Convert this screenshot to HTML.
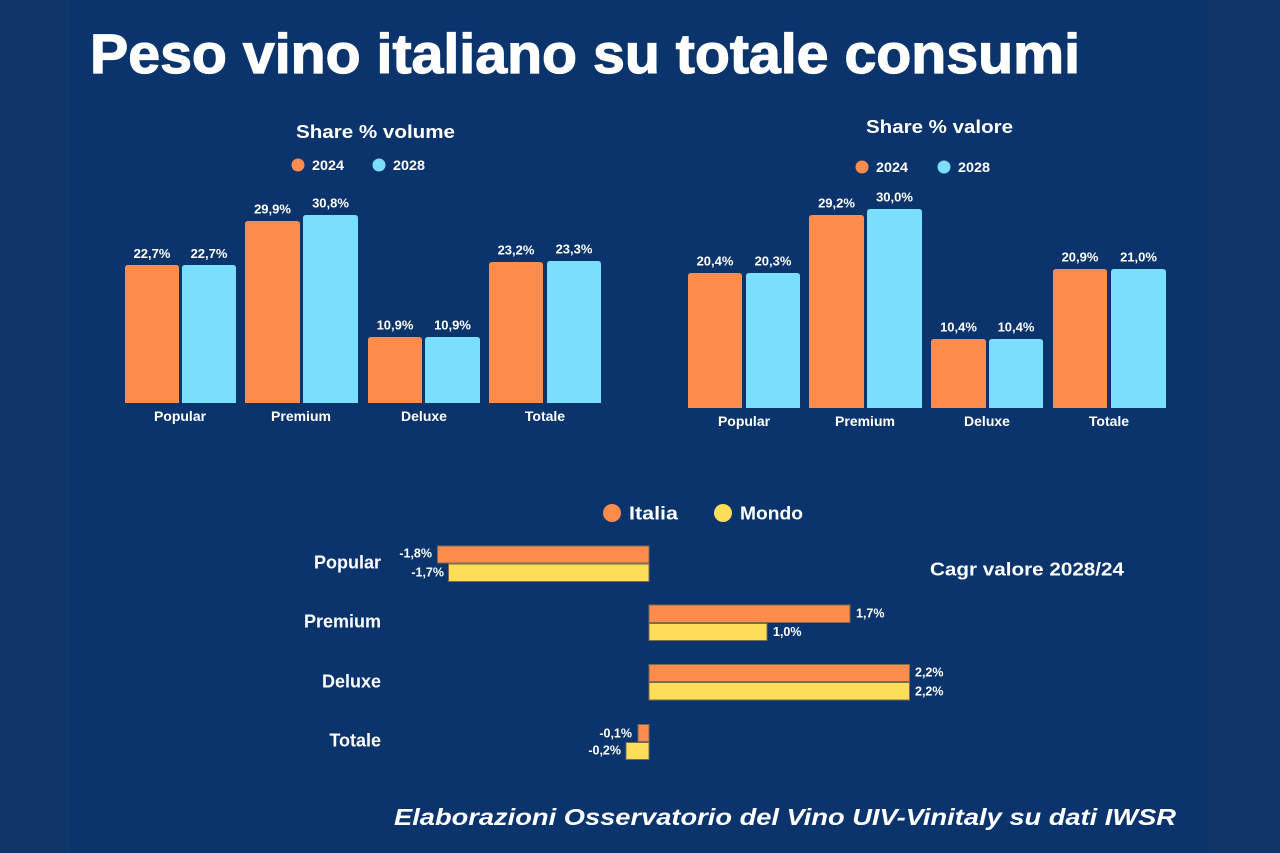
<!DOCTYPE html>
<html>
<head>
<meta charset="utf-8">
<style>
  html, body { margin:0; padding:0; background:#0b336c; }
  svg { display:block; }
  text { font-family: "Liberation Sans", "DejaVu Sans", sans-serif; font-weight:bold; fill:#ffffff; }
</style>
</head>
<body>
<svg width="1280" height="853" viewBox="0 0 1280 853" xmlns="http://www.w3.org/2000/svg">
  <rect x="0" y="0" width="1280" height="853" fill="#0b336c"/>
  <rect x="0" y="0" width="70" height="853" fill="#0f3569"/>
  <rect x="1208" y="0" width="72" height="853" fill="#0f3569"/>

  <!-- Title -->
  <text x="90" y="73" font-size="56" textLength="990" lengthAdjust="spacingAndGlyphs" stroke="#ffffff" stroke-width="1.2">Peso vino italiano su totale consumi</text>

  <!-- LEFT CHART: Share % volume -->
  <text x="296" y="138" font-size="18" textLength="159" lengthAdjust="spacingAndGlyphs">Share % volume</text>
  <circle cx="298" cy="165" r="6.5" fill="#fe8c4d"/>
  <text x="312" y="170" font-size="13.5" textLength="32" lengthAdjust="spacingAndGlyphs">2024</text>
  <circle cx="379" cy="165" r="6.5" fill="#79dffc"/>
  <text x="393" y="170" font-size="13.5" textLength="32" lengthAdjust="spacingAndGlyphs">2028</text>

  <g>
    <path d="M125,403 V268 Q125,265 128,265 H176 Q179,265 179,268 V403 Z" fill="#fe8c4d"/>
    <path d="M182,403 V268 Q182,265 185,265 H233 Q236,265 236,268 V403 Z" fill="#79dffc"/>
    <path d="M245,403 V224 Q245,221 248,221 H297 Q300,221 300,224 V403 Z" fill="#fe8c4d"/>
    <path d="M303,403 V218 Q303,215 306,215 H355 Q358,215 358,218 V403 Z" fill="#79dffc"/>
    <path d="M368,403 V340 Q368,337 371,337 H419 Q422,337 422,340 V403 Z" fill="#fe8c4d"/>
    <path d="M425,403 V340 Q425,337 428,337 H477 Q480,337 480,340 V403 Z" fill="#79dffc"/>
    <path d="M489,403 V265 Q489,262 492,262 H540 Q543,262 543,265 V403 Z" fill="#fe8c4d"/>
    <path d="M547,403 V264 Q547,261 550,261 H598 Q601,261 601,264 V403 Z" fill="#79dffc"/>
  </g>
  <g font-size="13" text-anchor="middle">
    <text x="152" y="258">22,7%</text>
    <text x="209" y="258">22,7%</text>
    <text x="272.5" y="213.5">29,9%</text>
    <text x="330.5" y="207.5">30,8%</text>
    <text x="395" y="329.5">10,9%</text>
    <text x="452.5" y="329.5">10,9%</text>
    <text x="516" y="254.5">23,2%</text>
    <text x="574" y="253.5">23,3%</text>
  </g>
  <g font-size="14" text-anchor="middle">
    <text x="180" y="421">Popular</text>
    <text x="301" y="421">Premium</text>
    <text x="424" y="421">Deluxe</text>
    <text x="545" y="421">Totale</text>
  </g>

  <!-- RIGHT CHART: Share % valore -->
  <text x="866" y="133" font-size="18" textLength="147" lengthAdjust="spacingAndGlyphs">Share % valore</text>
  <circle cx="862" cy="167" r="6.5" fill="#fe8c4d"/>
  <text x="876" y="172" font-size="13.5" textLength="32" lengthAdjust="spacingAndGlyphs">2024</text>
  <circle cx="944" cy="167" r="6.5" fill="#79dffc"/>
  <text x="958" y="172" font-size="13.5" textLength="32" lengthAdjust="spacingAndGlyphs">2028</text>

  <g>
    <path d="M688,408 V276 Q688,273 691,273 H739 Q742,273 742,276 V408 Z" fill="#fe8c4d"/>
    <path d="M746,408 V276 Q746,273 749,273 H797 Q800,273 800,276 V408 Z" fill="#79dffc"/>
    <path d="M809,408 V218 Q809,215 812,215 H861 Q864,215 864,218 V408 Z" fill="#fe8c4d"/>
    <path d="M867,408 V212 Q867,209 870,209 H919 Q922,209 922,212 V408 Z" fill="#79dffc"/>
    <path d="M931,408 V342 Q931,339 934,339 H983 Q986,339 986,342 V408 Z" fill="#fe8c4d"/>
    <path d="M989,408 V342 Q989,339 992,339 H1040 Q1043,339 1043,342 V408 Z" fill="#79dffc"/>
    <path d="M1053,408 V272 Q1053,269 1056,269 H1104 Q1107,269 1107,272 V408 Z" fill="#fe8c4d"/>
    <path d="M1111,408 V272 Q1111,269 1114,269 H1163 Q1166,269 1166,272 V408 Z" fill="#79dffc"/>
  </g>
  <g font-size="13" text-anchor="middle">
    <text x="715" y="265.5">20,4%</text>
    <text x="773" y="265.5">20,3%</text>
    <text x="836.5" y="207.5">29,2%</text>
    <text x="894.5" y="201.5">30,0%</text>
    <text x="958.5" y="331.5">10,4%</text>
    <text x="1016" y="331.5">10,4%</text>
    <text x="1080" y="261.5">20,9%</text>
    <text x="1138.5" y="261.5">21,0%</text>
  </g>
  <g font-size="14" text-anchor="middle">
    <text x="744" y="426">Popular</text>
    <text x="865" y="426">Premium</text>
    <text x="987" y="426">Deluxe</text>
    <text x="1109" y="426">Totale</text>
  </g>

  <!-- BOTTOM CHART -->
  <circle cx="612" cy="513" r="9" fill="#fe8c4d"/>
  <text x="629" y="519.5" font-size="18" textLength="49" lengthAdjust="spacingAndGlyphs">Italia</text>
  <circle cx="723" cy="513" r="9" fill="#fedd58"/>
  <text x="740" y="519.5" font-size="18" textLength="63" lengthAdjust="spacingAndGlyphs">Mondo</text>

  <text x="930" y="575.5" font-size="18" textLength="194" lengthAdjust="spacingAndGlyphs">Cagr valore 2028/24</text>

  <g font-size="18" text-anchor="end">
    <text x="381" y="568.5">Popular</text>
    <text x="381" y="627.5">Premium</text>
    <text x="381" y="687.5">Deluxe</text>
    <text x="381" y="746.5">Totale</text>
  </g>

  <g stroke="#7a6a55" stroke-width="1">
    <rect x="437.5" y="546" width="211.5" height="17" fill="#fe8c4d"/>
    <rect x="448.5" y="564" width="200.5" height="17.5" fill="#fedd58"/>
    <rect x="649" y="605" width="201" height="17.5" fill="#fe8c4d"/>
    <rect x="649" y="623.5" width="118" height="17" fill="#fedd58"/>
    <rect x="649" y="664.5" width="260.5" height="17" fill="#fe8c4d"/>
    <rect x="649" y="682.5" width="260.5" height="17.5" fill="#fedd58"/>
    <rect x="638" y="724.5" width="11" height="17" fill="#fe8c4d"/>
    <rect x="626" y="742.5" width="23" height="17" fill="#fedd58"/>
  </g>

  <g font-size="12.5">
    <text x="432" y="557.5" text-anchor="end">-1,8%</text>
    <text x="444" y="576.5" text-anchor="end">-1,7%</text>
    <text x="856" y="617.5">1,7%</text>
    <text x="773" y="636">1,0%</text>
    <text x="915" y="676.5">2,2%</text>
    <text x="915" y="695.5">2,2%</text>
    <text x="632" y="737.5" text-anchor="end">-0,1%</text>
    <text x="621" y="754.5" text-anchor="end">-0,2%</text>
  </g>

  <!-- Footer -->
  <text x="394" y="825" font-size="23" font-style="italic" textLength="782" lengthAdjust="spacingAndGlyphs">Elaborazioni Osservatorio del Vino UIV-Vinitaly su dati IWSR</text>
</svg>
</body>
</html>
